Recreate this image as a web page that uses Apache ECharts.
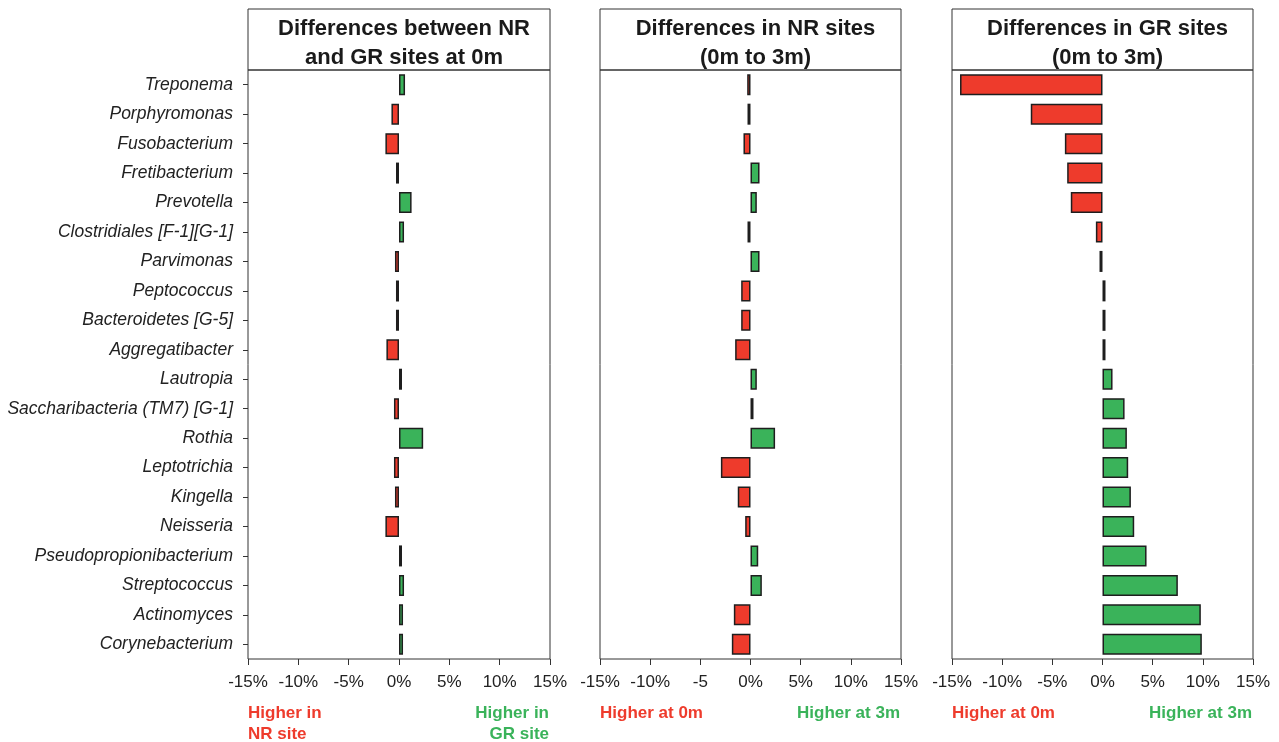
<!DOCTYPE html>
<html>
<head>
<meta charset="utf-8">
<script src="https://cdn.jsdelivr.net/npm/echarts@6/dist/echarts.min.js"></script>
<style>
  html, body { margin: 0; padding: 0; background: #fff; }
  #chart { width: 1279px; height: 742px; }
</style>
</head>
<body>
<div id="chart"></div>
<script>
// Genera, top to bottom
const genera = [
  'Treponema', 'Porphyromonas', 'Fusobacterium', 'Fretibacterium', 'Prevotella',
  'Clostridiales [F-1][G-1]', 'Parvimonas', 'Peptococcus', 'Bacteroidetes [G-5]',
  'Aggregatibacter', 'Lautropia', 'Saccharibacteria (TM7) [G-1]', 'Rothia',
  'Leptotrichia', 'Kingella', 'Neisseria', 'Pseudopropionibacterium',
  'Streptococcus', 'Actinomyces', 'Corynebacterium'
];

// Difference in relative abundance (%), GR minus NR at 0m
const diffNRvsGR0m = [
  0.6, -0.75, -1.35, -0.1, 1.25,
  0.5, -0.4, -0.3, -0.3,
  -1.25, 0.27, -0.5, 2.4,
  -0.5, -0.4, -1.35, 0.1,
  0.5, 0.4, 0.4
];

// Change in NR sites, 3m minus 0m (%)
const diffNR0to3 = [
  -0.33, -0.1, -0.7, 0.9, 0.63,
  -0.1, 0.9, -0.93, -0.93,
  -1.53, 0.63, 0.27, 2.45,
  -2.95, -1.27, -0.53, 0.77,
  1.13, -1.66, -1.86
];

// Change in GR sites, 3m minus 0m (%)
const diffGR0to3 = [
  -14.2, -7.15, -3.75, -3.52, -3.16,
  -0.66, -0.27, 0.1, 0.1,
  0.23, 1.0, 2.2, 2.43,
  2.56, 2.83, 3.16, 4.39,
  7.51, 9.8, 9.9
];

const axisTicks = [-15, -10, -5, 0, 5, 10, 15];
const tickLabelsPct = ['-15%', '-10%', '-5%', '0%', '5%', '10%', '15%'];
const tickLabelsNR = ['-15%', '-10%', '-5', '0%', '5%', '10%', '15%'];

const panelTitles = [
  'Differences between NR\nand GR sites at 0m',
  'Differences in NR sites\n(0m to 3m)',
  'Differences in GR sites\n(0m to 3m)'
];
const lowSideLabels = ['Higher in\nNR site', 'Higher at 0m', 'Higher at 0m'];
const highSideLabels = ['Higher in\nGR site', 'Higher at 3m', 'Higher at 3m'];

const RED = '#EE3B2C';
const GREEN = '#3AB35A';
const INK = '#1e1e1e';
const FONT = '"Liberation Sans", Arial, Helvetica, sans-serif';

const panels = [
  { left: 248, width: 302, data: diffNRvsGR0m, ticks: tickLabelsPct },
  { left: 600, width: 301, data: diffNR0to3, ticks: tickLabelsNR },
  { left: 952, width: 301, data: diffGR0to3, ticks: tickLabelsPct }
];
const PLOT_TOP = 70, PLOT_H = 589, HEAD_TOP = 9;

const chart = echarts.init(document.getElementById('chart'), null, { renderer: 'canvas' });

const grid = [], xAxis = [], yAxis = [], series = [], title = [], graphic = [];

panels.forEach((p, i) => {
  grid.push({
    left: p.left, top: PLOT_TOP, width: p.width, height: PLOT_H,
    show: true, borderColor: '#333', borderWidth: 1, backgroundColor: '#fff',
    containLabel: false
  });
  xAxis.push({
    type: 'value', gridIndex: i, min: -15, max: 15, interval: 5,
    axisLine: { show: false, onZero: false },
    axisTick: { show: true, length: 6, lineStyle: { color: '#333', width: 1 } },
    splitLine: { show: false },
    axisLabel: {
      margin: 15, color: '#222', fontFamily: FONT, fontSize: 17,
      formatter: v => p.ticks[axisTicks.indexOf(v)]
    }
  });
  yAxis.push({
    type: 'category', gridIndex: i, data: genera, inverse: true,
    axisLine: { show: false, onZero: false },
    axisTick: { show: i === 0, length: 5, alignWithLabel: true, lineStyle: { color: '#333' } },
    axisLabel: {
      show: i === 0, margin: 15, color: '#222', fontFamily: FONT,
      fontSize: 17.5, fontStyle: 'italic'
    },
    splitLine: { show: false }
  });
  series.push({
    type: 'bar', xAxisIndex: i, yAxisIndex: i,
    data: p.data, barWidth: 21, barMinHeight: 3,
    itemStyle: {
      color: params => (params.value < 0 ? RED : GREEN),
      borderColor: INK, borderWidth: 1.5
    },
    emphasis: { disabled: true },
    silent: true
  });
  title.push({
    text: panelTitles[i],
    left: p.left + p.width / 2, top: 9, textAlign: 'center',
    textStyle: { fontFamily: FONT, fontSize: 22, fontWeight: 'bold', color: '#1a1a1a', lineHeight: 29 }
  });
  graphic.push({
    type: 'rect', shape: { x: p.left, y: HEAD_TOP, width: p.width, height: PLOT_TOP - HEAD_TOP },
    style: { fill: 'none', stroke: '#333', lineWidth: 1 }, silent: true, z: 10
  });
  graphic.push({
    type: 'text', x: p.left, y: 703,
    style: {
      text: lowSideLabels[i], fill: RED, font: 'bold 17px ' + FONT,
      textAlign: 'left', textVerticalAlign: 'top', lineHeight: 21
    }
  });
  graphic.push({
    type: 'text', x: p.left + p.width - 1, y: 703,
    style: {
      text: highSideLabels[i], fill: GREEN, font: 'bold 17px ' + FONT,
      textAlign: 'right', textVerticalAlign: 'top', lineHeight: 21
    }
  });
});

chart.setOption({
  backgroundColor: '#fff',
  animation: false,
  title, grid, xAxis, yAxis, series, graphic
});
</script>
</body>
</html>
